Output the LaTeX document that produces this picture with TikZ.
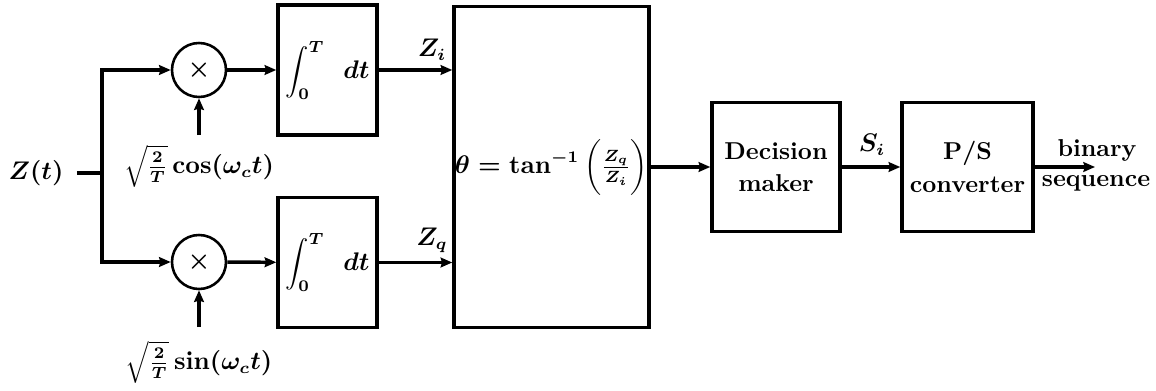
\documentclass[tikz,border=0pt]{standalone}
\usetikzlibrary{arrows.meta}
\begin{document}
\begin{tikzpicture}[x=0.43pt,y=-0.43pt, line width=1.5pt,
  fnt/.style={font=\fontsize{10.5}{14}\selectfont\bfseries\boldmath},
  blk/.style={draw, line width=1.5pt, inner sep=0pt, align=center, fnt},
  mult/.style={draw, circle, line width=1.1pt, minimum size=54*0.43pt, inner sep=0pt, fnt},
  arr/.style={-{Stealth[length=5pt,width=4.2pt,inset=0.6pt]}},
  lbl/.style={fnt, inner sep=1pt}]
\useasboundingbox (0,0) rectangle (1156,390);
% nodes
\node[lbl] (zt) at (36,173) {$Z(t)$};
\coordinate (sp) at (102,173);
\node[mult] (m1) at (199,70) {$\times$};
\node[mult] (m2) at (199,262) {$\times$};
\node[blk, minimum width=99*0.43pt, minimum height=130*0.43pt] (i1) at (327.5,70) {$\displaystyle\int_0^T\hspace{6pt}dt$};
\node[blk, minimum width=99*0.43pt, minimum height=130*0.43pt] (i2) at (327.5,262.5) {$\displaystyle\int_0^T\hspace{6pt}dt$};
\node[blk, minimum width=195*0.43pt, minimum height=321*0.43pt] (th) at (551.5,167) {$\theta=\tan^{-1}\bigg(\frac{Z_q}{Z_i}\bigg)$};
\node[blk, minimum width=128*0.43pt, minimum height=129*0.43pt] (dm) at (776,167) {Decision\\maker};
\node[blk, minimum width=131*0.43pt, minimum height=129*0.43pt] (ps) at (967.5,167) {P/S\\converter};
\node[lbl] (cosl) at (199,166) {$\sqrt{\frac{2}{T}}\cos(\omega_c t)$};
\node[lbl] (sinl) at (199,362) {$\sqrt{\frac{2}{T}}\sin(\omega_c t)$};
\coordinate (c1) at (199,135);
\coordinate (c2) at (199,327);
\node[lbl] (zi) at (432,50) {$Z_i$};
\node[lbl] (zq) at (432,240) {$Z_q$};
\node[lbl] (si) at (872,145) {$S_i$};
\coordinate (out) at (1095,167);
\node[lbl, inner sep=0pt] (bin) at (1097,150) {binary};
\node[lbl, inner sep=0pt] (seq) at (1096,183) {sequence};
% connectors
\draw ([xshift=4pt]zt.east) -- (sp);
\draw[arr] (sp) |- (m1);
\draw[arr] (sp) |- (m2);
\draw[arr] (c1) -- (m1);
\draw[arr] (c2) -- (m2);
\draw[arr] (m1) -- (i1);
\draw[arr] (m2) -- (i2);
\draw[arr] (i1.east) -- (th.west |- i1.east);
\draw[arr] (i2.east) -- (th.west |- i2.east);
\draw[arr] (th) -- (dm);
\draw[arr] (dm) -- (ps);
\draw[arr] (ps) -- (out);
\end{tikzpicture}
\end{document}
